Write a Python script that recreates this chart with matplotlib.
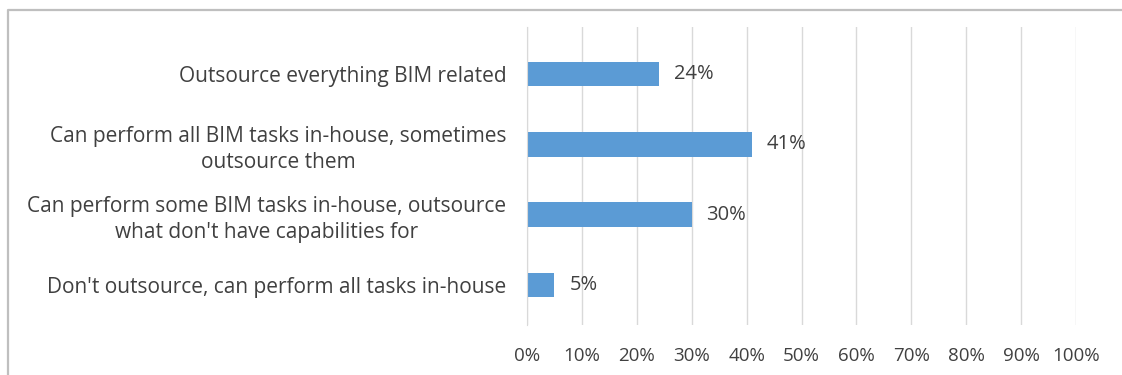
import matplotlib
matplotlib.use("Agg")
import matplotlib.pyplot as plt
from matplotlib.lines import Line2D

plt.rcParams['font.family'] = ['Open Sans', 'DejaVu Sans']

categories = [
    "Outsource everything BIM related",
    "Can perform all BIM tasks in-house, sometimes\noutsource them",
    "Can perform some BIM tasks in-house, outsource\nwhat don't have capabilities for",
    "Don't outsource, can perform all tasks in-house",
]
values = [24, 41, 30, 5]
xticks = [0, 10, 20, 30, 40, 50, 60, 70, 80, 90, 100]

W, H = 1122, 375
fig = plt.figure(figsize=(W / 100, H / 100), dpi=100)
ax = fig.add_axes([527 / W, 1 - 325 / H, (1076 - 527) / W, (325 - 27) / H])

text_col = '#404040'
ypos = list(range(len(categories)))
ax.barh(ypos, values, height=0.35, color='#5B9BD5', zorder=3)
for y, v in zip(ypos, values):
    ax.text(v + 2.7, y, f"{v}%", va='center', ha='left', fontsize=14.5, color=text_col)

ax.set_xlim(0, 100)
ax.set_ylim(3.57, -0.67)
ax.set_xticks(xticks)
ax.set_xticklabels([f"{t}%" for t in xticks], fontsize=13.5, color=text_col)
ax.set_yticks(ypos)
ax.set_yticklabels(categories, fontsize=15, color=text_col,
                   multialignment='center', linespacing=1.31)
ax.tick_params(axis='both', length=0)
ax.tick_params(axis='x', pad=16)
ax.tick_params(axis='y', pad=15)
ax.grid(axis='x', color='#D9D9D9', linewidth=1, zorder=0)
for s in ['top', 'right', 'bottom']:
    ax.spines[s].set_visible(False)
ax.spines['left'].set_color('#D9D9D9')
ax.spines['left'].set_zorder(4)

# chart area frame (only top and left edges are visible in the crop)
fig.add_artist(Line2D([8 / W, 8 / W, 1.0], [0.0, 1 - 10 / H, 1 - 10 / H],
                      color='#BFBFBF', linewidth=1.6, transform=fig.transFigure))

fig.savefig("out.png", dpi=100)
